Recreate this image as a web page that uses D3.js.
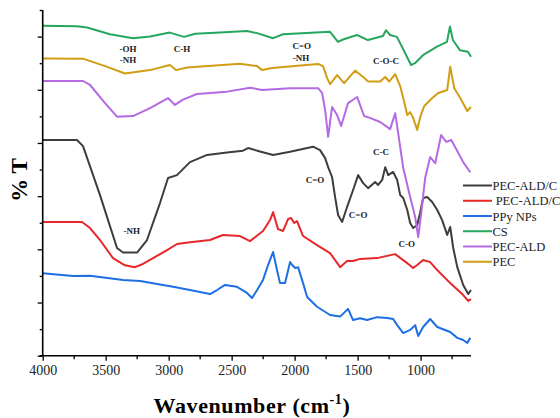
<!DOCTYPE html>
<html>
<head>
<meta charset="utf-8">
<script src="https://cdn.jsdelivr.net/npm/d3@7"></script>
<style>
  html, body { margin: 0; padding: 0; background: #fff; }
  svg { display: block; }
</style>
</head>
<body>
<div id="grafica"></div>
<script>
// ==============================
// DATOS (número de onda cm-1, %T desplazado)
// ==============================
const serieCS = [
  [4000, 12.41], [3728, 12.39], [3648, 12.34], [3466, 12.09], [3283, 11.94], [3148, 12.0],
  [2990, 12.15], [2878, 11.99], [2790, 12.11], [2592, 12.15], [2378, 12.21], [2298, 12.13],
  [2171, 11.94], [2092, 12.09], [1719, 12.18], [1656, 11.80], [1616, 11.89], [1505, 12.06],
  [1418, 11.87], [1299, 12.02], [1275, 12.24], [1243, 12.06], [1188, 11.99], [1148, 11.62],
  [1076, 10.93], [1045, 11.0], [981, 11.30], [870, 11.62], [791, 11.80], [767, 12.38],
  [744, 11.87], [688, 11.49], [625, 11.43], [600, 11.24]
];

const seriePEC = [
  [4000, 11.18], [3680, 11.17], [3505, 10.89], [3347, 10.61], [3148, 10.74], [2990, 10.93],
  [2942, 10.74], [2854, 10.84], [2433, 10.98], [2298, 10.89], [2258, 10.74], [2179, 10.82],
  [1814, 10.97], [1774, 10.89], [1742, 10.44], [1718, 10.21], [1663, 10.55], [1607, 10.25],
  [1520, 10.72], [1456, 10.48], [1416, 10.31], [1321, 10.31], [1281, 10.48], [1249, 10.31],
  [1202, 10.59], [1162, 10.14], [1130, 9.54], [1106, 9.05], [1083, 9.16], [1059, 8.94],
  [1027, 8.49], [1003, 8.98], [971, 9.39], [908, 9.69], [860, 9.88], [789, 9.99],
  [765, 10.87], [733, 10.06], [685, 9.69], [630, 9.20], [600, 9.35]
];

const seriePECALD = [
  [4000, 10.33], [3680, 10.33], [3624, 10.18], [3505, 9.50], [3410, 8.99], [3283, 9.01],
  [3148, 9.31], [3005, 9.69], [2950, 9.43], [2887, 9.63], [2776, 9.84], [2537, 9.93],
  [2354, 10.08], [2259, 9.99], [2036, 10.06], [1814, 10.06], [1782, 9.88], [1758, 9.24],
  [1734, 8.23], [1703, 9.35], [1663, 9.05], [1631, 8.64], [1576, 9.50], [1504, 9.73],
  [1448, 9.01], [1417, 8.97], [1321, 8.79], [1242, 8.52], [1202, 9.12], [1170, 8.11],
  [1138, 7.06], [1083, 5.97], [1043, 5.22], [1019, 4.46], [995, 5.36], [964, 6.68],
  [924, 7.47], [884, 7.24], [837, 8.30], [797, 8.04], [757, 8.11], [709, 7.70],
  [662, 7.28], [606, 6.90]
];

const seriePECALDCS = [
  [4000, 8.11], [3728, 8.11], [3680, 7.88], [3545, 6.04], [3410, 4.05], [3362, 3.88],
  [3251, 3.88], [3172, 4.35], [3069, 5.74], [3005, 6.68], [2934, 6.79], [2831, 7.28],
  [2695, 7.55], [2537, 7.64], [2410, 7.71], [2370, 7.81], [2275, 7.68], [2171, 7.55],
  [2036, 7.67], [1854, 7.86], [1798, 7.73], [1758, 7.43], [1734, 7.09], [1703, 6.72],
  [1679, 5.97], [1655, 5.29], [1623, 5.03], [1584, 5.59], [1536, 6.23], [1496, 6.79],
  [1456, 6.49], [1417, 6.30], [1361, 6.53], [1337, 6.42], [1305, 6.61], [1281, 7.09],
  [1257, 6.79], [1218, 6.91], [1186, 6.61], [1162, 6.04], [1138, 5.93], [1106, 5.48],
  [1083, 4.99], [1059, 4.80], [1027, 4.91], [1003, 5.40], [980, 5.93], [948, 5.97],
  [908, 5.78], [868, 5.48], [829, 5.10], [789, 4.54], [765, 4.84], [741, 4.05],
  [709, 3.33], [662, 2.66], [622, 2.32], [600, 2.47]
];

const seriePECALDCSPPy = [
  [4000, 5.03], [3688, 5.03], [3624, 4.80], [3545, 4.35], [3442, 3.67], [3347, 3.40],
  [3267, 3.33], [3204, 3.45], [3093, 3.75], [3013, 3.97], [2934, 4.20], [2831, 4.27],
  [2672, 4.35], [2569, 4.54], [2434, 4.50], [2354, 4.31], [2251, 4.69], [2195, 5.10],
  [2171, 5.40], [2132, 4.76], [2092, 4.69], [2052, 5.14], [2028, 5.18], [2004, 4.99],
  [1981, 5.06], [1933, 4.50], [1822, 4.16], [1719, 3.86], [1639, 3.33], [1584, 3.56],
  [1536, 3.56], [1480, 3.64], [1346, 3.67], [1202, 3.82], [1106, 3.48], [1059, 3.30],
  [1027, 3.41], [980, 3.60], [924, 3.52], [868, 3.22], [765, 2.73], [662, 2.28],
  [622, 2.06], [600, 2.13]
];

const seriePPy = [
  [4000, 3.10], [3759, 3.00], [3624, 3.01], [3362, 2.85], [3227, 2.81], [2965, 2.59],
  [2831, 2.47], [2672, 2.32], [2616, 2.47], [2553, 2.66], [2458, 2.59], [2378, 2.36],
  [2338, 2.17], [2298, 2.47], [2251, 2.85], [2211, 3.41], [2171, 3.90], [2140, 3.22],
  [2116, 2.73], [2076, 2.73], [2036, 3.52], [2012, 3.37], [1996, 3.30], [1973, 3.33],
  [1933, 2.73], [1901, 2.21], [1822, 1.84], [1719, 1.53], [1639, 1.47], [1576, 1.76],
  [1536, 1.34], [1480, 1.41], [1425, 1.34], [1345, 1.45], [1266, 1.42], [1218, 1.38],
  [1186, 1.15], [1138, 0.85], [1083, 0.97], [1043, 1.15], [1019, 0.74], [980, 1.08],
  [924, 1.38], [868, 1.08], [765, 0.89], [709, 0.67], [662, 0.59], [630, 0.48], [606, 0.67]
];

// la leyenda del original aparece cortada en el borde derecho
const nombresSeries = ["PEC-ALD/C", " PEC-ALD/C", "PPy NPs", "CS", "PEC-ALD", "PEC"];
const coloresSeries = ["#3d3d3d", "#e8272b", "#1d6fe3", "#27a65d", "#b46ae4", "#d09d14"];
const datosSeries = [seriePECALDCS, seriePECALDCSPPy, seriePPy, serieCS, seriePECALD, seriePEC];
const ordenDibujo = [0, 1, 2, 3, 5, 4];

const ticksX = [4000, 3500, 3000, 2500, 2000, 1500, 1000];
const ticksXMenores = [3750, 3250, 2750, 2250, 1750, 1250, 750];

// etiquetas de bandas: [texto, número de onda, valor]
const etiquetas = [
  ["-OH", 3323, 11.42], ["-NH", 3323, 11.0], ["C-H", 2894, 11.42],
  ["C=O", 1944, 11.53], ["-NH", 1950, 11.09], ["C-O-C", 1274, 10.97],
  ["C=O", 1838, 6.48], ["C=O", 1496, 5.19], ["C-C", 1314, 7.55],
  ["C-O", 1110, 4.08], ["-NH", 3293, 4.58]
];

// ==============================
// ESCALAS Y SVG
// ==============================
const ANCHO = 560, ALTO = 418;
const x = d3.scaleLinear().domain([4000, 600]).range([42.7, 471]);
const y = d3.scaleLinear().domain([0, 13]).range([355.7, 10]);

const svg = d3.select("#grafica").append("svg")
  .attr("width", ANCHO).attr("height", ALTO)
  .attr("viewBox", `0 0 ${ANCHO} ${ALTO}`);

const serif = "'Liberation Serif', 'Times New Roman', serif";

// curvas
const linea = d3.line().x(d => x(d[0])).y(d => y(d[1]));
ordenDibujo.forEach(i => {
  svg.append("path")
    .datum(datosSeries[i])
    .attr("fill", "none")
    .attr("stroke", coloresSeries[i])
    .attr("stroke-width", 2)
    .attr("stroke-linejoin", "round")
    .attr("d", linea);
});

// ejes
const ejeX = svg.append("g").attr("transform", `translate(0,${y(0)})`);
ejeX.call(d3.axisBottom(x).tickValues(ticksX).tickSize(5).tickPadding(4).tickFormat(d3.format("d")));
ejeX.selectAll(".menor").data(ticksXMenores).enter().append("line")
  .attr("class", "menor")
  .attr("x1", d => x(d)).attr("x2", d => x(d))
  .attr("y1", 0).attr("y2", 3.5)
  .attr("stroke", "#000").attr("stroke-width", 1.3);
ejeX.select(".domain").attr("d", `M${x(4000) - 3},0H${x(600)}`);

const ejeY = svg.append("g").attr("transform", `translate(${x(4000)},0)`);
ejeY.call(d3.axisLeft(y).tickValues(d3.range(0, 14)).tickFormat("").tickSize(0));
ejeY.selectAll(".tick line")
  .attr("x2", d => d % 2 === 0 ? -5 : -3);
ejeY.select(".domain").attr("d", `M0,${y(13)}V${y(0)}`);

[ejeX, ejeY].forEach(eje => {
  eje.selectAll(".domain").attr("stroke", "#000").attr("stroke-width", 1.6);
  eje.selectAll(".tick line").attr("stroke", "#000").attr("stroke-width", 1.3);
});
ejeX.selectAll(".tick text")
  .attr("font-family", serif).attr("font-size", 14).attr("fill", "#222");

// títulos de ejes
svg.append("text")
  .attr("transform", `translate(27,180) rotate(-90)`)
  .attr("text-anchor", "middle")
  .attr("font-family", serif).attr("font-weight", "bold").attr("font-size", 23)
  .text("% T");

const tituloX = svg.append("text")
  .attr("x", 252).attr("y", 413)
  .attr("text-anchor", "middle")
  .attr("font-family", serif).attr("font-weight", "bold").attr("font-size", 22)
  .attr("letter-spacing", 0.6);
tituloX.append("tspan").text("Wavenumber (cm");
tituloX.append("tspan").attr("font-size", 14).attr("dy", -9).text("-1");
tituloX.append("tspan").attr("dy", 9).text(")");

// etiquetas de bandas
svg.selectAll(".banda").data(etiquetas).enter().append("text")
  .attr("class", "banda")
  .attr("x", d => x(d[1])).attr("y", d => y(d[2]))
  .attr("text-anchor", "middle")
  .attr("font-family", serif).attr("font-weight", "bold").attr("font-size", 9)
  .attr("fill", "#222")
  .text(d => d[0]);

// leyenda
const leyenda = svg.append("g").attr("transform", "translate(463,185.5)");
nombresSeries.forEach((nombre, i) => {
  const fila = leyenda.append("g").attr("transform", `translate(0,${i * 15.25})`);
  fila.append("line")
    .attr("x1", 0).attr("x2", 29).attr("y1", 0).attr("y2", 0)
    .attr("stroke", coloresSeries[i]).attr("stroke-width", 2);
  fila.append("text")
    .attr("x", 29.5).attr("y", 4.5)
    .attr("font-family", serif).attr("font-size", 12.5).attr("fill", "#222")
    .style("white-space", "pre")
    .text(nombre);
});
</script>
</body>
</html>
